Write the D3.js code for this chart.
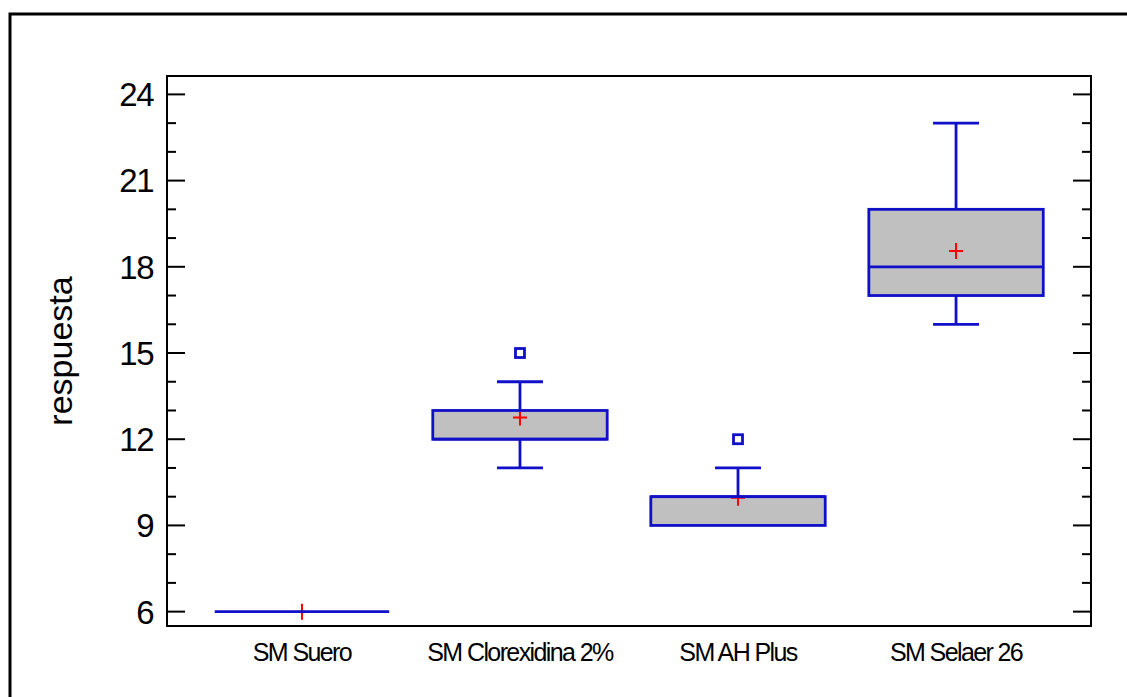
<!DOCTYPE html>
<html>
<head>
<meta charset="utf-8">
<script src="https://cdn.jsdelivr.net/npm/d3@7"></script>
<style>
  body { margin: 0; background: #fff; }
  svg { display: block; font-family: "Liberation Sans", Arial, sans-serif; }
</style>
</head>
<body>
<script>
// box plot data
var categories = ["SM Suero", "SM Clorexidina 2%", "SM AH Plus", "SM Selaer 26"];
var whiskerLow = [6, 11, 9, 16];
var q1 = [6, 12, 9, 17];
var median = [6, 12, 10, 18];
var q3 = [6, 13, 10, 20];
var whiskerHigh = [6, 14, 11, 23];
var means = [6, 12.76, 9.96, 18.55];
var outliers = [[], [15], [12], []];
var majorTicks = [6, 9, 12, 15, 18, 21, 24];

var width = 1127,
    height = 697;

//plot frame edges (window.top is taken, so prefixed names)
var plotLeft = 167, plotRight = 1091, plotTop = 76, plotBottom = 626;

var svg = d3.select("body")
    .append("svg")
    .attr("width", width)
    .attr("height", height);

//outer frame (runs off the right and bottom of the picture)
svg.append("rect")
    .attr("x", 10)
    .attr("y", 14)
    .attr("width", 1140)
    .attr("height", 720)
    .attr("fill", "none")
    .attr("stroke", "#000")
    .attr("stroke-width", 3);

var y = d3.scaleLinear()
    .domain([5.5, 24.64])
    .range([plotBottom, plotTop]);

var x = d3.scaleBand()
    .domain(categories)
    .range([plotLeft, plotRight])
    .paddingInner(0.2)
    .paddingOuter(0.219);

var minorTicks = d3.range(6, 25).filter(function(v){ return majorTicks.indexOf(v) < 0; });

//ticks on both sides, pointing inward
var ticks = svg.append("g").attr("stroke", "#000").attr("stroke-width", 2);
majorTicks.forEach(function(v){
    ticks.append("line").attr("x1", plotLeft).attr("x2", plotLeft + 18).attr("y1", y(v)).attr("y2", y(v));
    ticks.append("line").attr("x1", plotRight).attr("x2", plotRight - 18).attr("y1", y(v)).attr("y2", y(v));
});
minorTicks.forEach(function(v){
    ticks.append("line").attr("x1", plotLeft).attr("x2", plotLeft + 9).attr("y1", y(v)).attr("y2", y(v));
    ticks.append("line").attr("x1", plotRight).attr("x2", plotRight - 9).attr("y1", y(v)).attr("y2", y(v));
});

//tick labels
svg.selectAll(".ylab")
    .data(majorTicks)
    .enter()
    .append("text")
    .attr("class", "ylab")
    .attr("x", 153)
    .attr("y", function(d){ return y(d); })
    .attr("dy", "0.36em")
    .attr("text-anchor", "end")
    .attr("font-size", 33)
    .attr("letter-spacing", -1.5)
    .text(function(d){ return d; });

svg.append("text")
    .attr("transform", "translate(72," + (plotTop + plotBottom) / 2 + ") rotate(-90)")
    .attr("text-anchor", "middle")
    .attr("font-size", 34)
    .text("respuesta");

svg.selectAll(".xlab")
    .data(categories)
    .enter()
    .append("text")
    .attr("class", "xlab")
    .attr("x", function(d){ return x(d) + x.bandwidth() / 2; })
    .attr("y", 661)
    .attr("text-anchor", "middle")
    .attr("font-size", 25)
    .attr("letter-spacing", -1.6)
    .text(function(d){ return d; });

var blue = "#1010c8";
var cap = 23;

categories.forEach(function(c, i){
    var cx = x(c) + x.bandwidth() / 2;
    var g = svg.append("g");

    //box fill
    g.append("rect")
        .attr("x", x(c))
        .attr("y", y(q3[i]))
        .attr("width", x.bandwidth())
        .attr("height", y(q1[i]) - y(q3[i]))
        .attr("fill", "#c0c0c0");

    //mean marker, drawn under the blue lines
    var m = y(means[i]);
    g.append("path")
        .attr("d", "M" + (cx - 7) + "," + m + "H" + (cx + 7) + "M" + cx + "," + (m - 8) + "V" + (m + 8))
        .attr("stroke", "#ff0000")
        .attr("stroke-width", 2)
        .attr("fill", "none");

    var lines = g.append("g").attr("stroke", blue).attr("stroke-width", 2.8).attr("fill", "none");
    lines.append("rect")
        .attr("x", x(c))
        .attr("y", y(q3[i]))
        .attr("width", x.bandwidth())
        .attr("height", y(q1[i]) - y(q3[i]));
    lines.append("line")
        .attr("x1", x(c)).attr("x2", x(c) + x.bandwidth())
        .attr("y1", y(median[i])).attr("y2", y(median[i]));
    if (whiskerHigh[i] > q3[i]) {
        lines.append("line").attr("x1", cx).attr("x2", cx).attr("y1", y(q3[i])).attr("y2", y(whiskerHigh[i]));
        lines.append("line").attr("x1", cx - cap).attr("x2", cx + cap).attr("y1", y(whiskerHigh[i])).attr("y2", y(whiskerHigh[i]));
    }
    if (whiskerLow[i] < q1[i]) {
        lines.append("line").attr("x1", cx).attr("x2", cx).attr("y1", y(q1[i])).attr("y2", y(whiskerLow[i]));
        lines.append("line").attr("x1", cx - cap).attr("x2", cx + cap).attr("y1", y(whiskerLow[i])).attr("y2", y(whiskerLow[i]));
    }
    outliers[i].forEach(function(v){
        lines.append("rect")
            .attr("x", cx - 4.5)
            .attr("y", y(v) - 4.5)
            .attr("width", 9)
            .attr("height", 9);
    });
});

//plot border
svg.append("rect")
    .attr("x", plotLeft)
    .attr("y", plotTop)
    .attr("width", plotRight - plotLeft)
    .attr("height", plotBottom - plotTop)
    .attr("fill", "none")
    .attr("stroke", "#000")
    .attr("stroke-width", 2);
</script>
</body>
</html>
